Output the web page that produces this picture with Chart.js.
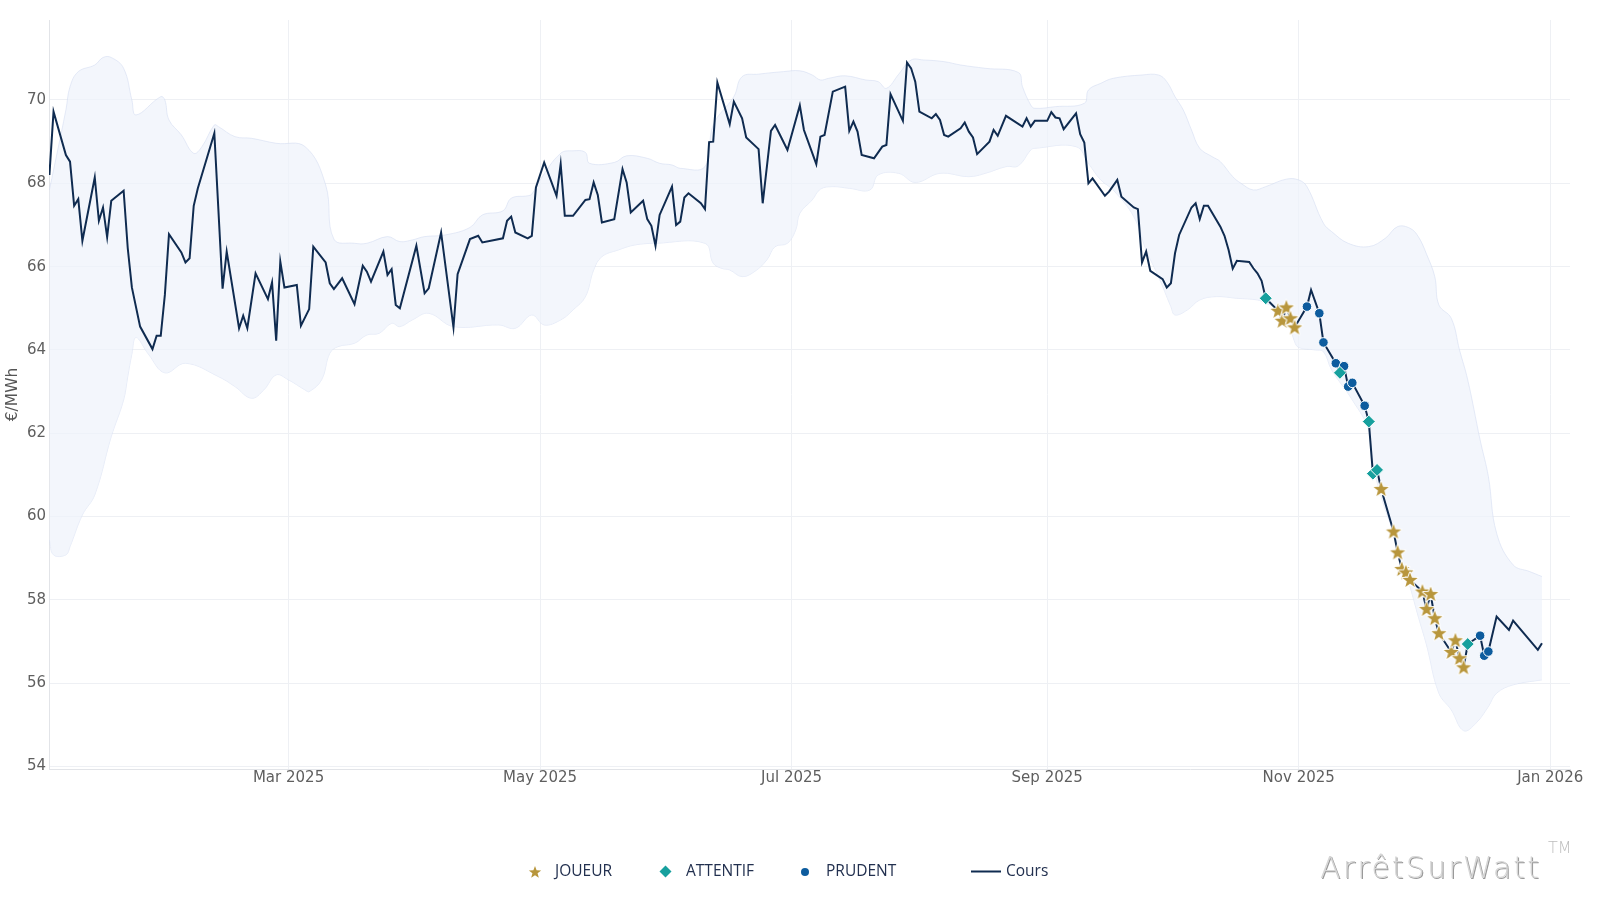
<!DOCTYPE html>
<html>
<head>
<meta charset="utf-8">
<script src="https://cdn.jsdelivr.net/npm/chart.js@4.4.1/dist/chart.umd.min.js"></script>
<style>
  html, body { margin: 0; padding: 0; background: #fff; }
  #wrap { position: relative; width: 1600px; height: 900px; overflow: hidden; }
  #chart { position: absolute; left: 0; top: 0; }
  .leg { position: absolute; top: 863px; font-family: 'Open Sans', sans-serif; font-size: 15.5px; line-height: 1; color: #22304f; white-space: nowrap; }
  .icon { position: absolute; }
  #mark { position: absolute; left: 1320px; top: 853px; font-family: 'DejaVu Sans', sans-serif; font-weight: 200; font-size: 30px; line-height: 1; color: #d6d6d6; text-shadow: 1px 1px 0 #9a9a9a; letter-spacing: 2.2px; white-space: nowrap; }
  #tm { position: absolute; left: 1548px; top: 840px; font-family: 'DejaVu Sans', sans-serif; font-weight: 200; font-size: 16px; line-height: 1; color: #bdbdbd; }
</style>
</head>
<body>
<div id="wrap">
  <canvas id="chart" width="1600" height="900"></canvas>

  <svg class="icon" style="left:528px;top:865px" width="14" height="14" viewBox="-7 -7 14 14">
    <polygon id="legStar" fill="#b8963c"></polygon>
  </svg>
  <div class="leg" style="left:555px">JOUEUR</div>
  <svg class="icon" style="left:659px;top:865px" width="13" height="13" viewBox="-6.5 -6.5 13 13">
    <polygon points="0,-6 6,0 0,6 -6,0" fill="#17a09e"></polygon>
  </svg>
  <div class="leg" style="left:686px">ATTENTIF</div>
  <svg class="icon" style="left:800px;top:867px" width="10" height="10" viewBox="-5 -5 10 10">
    <circle r="4" fill="#0d5c9e"></circle>
  </svg>
  <div class="leg" style="left:826px">PRUDENT</div>
  <svg class="icon" style="left:971px;top:870px" width="30" height="3">
    <line x1="0" y1="1.5" x2="30" y2="1.5" stroke="#0f2b50" stroke-width="2"></line>
  </svg>
  <div class="leg" style="left:1006px">Cours</div>

  <div id="mark">ArrêtSurWatt</div>
  <div id="tm">TM</div>
</div>

<script>
// day offsets from 2025-01-01
const coursDays = [
  1, 2, 5, 6, 7, 8, 9, 12, 13, 14, 15, 16, 19, 20, 21, 23, 26, 27, 28, 29, 30,
  33, 34, 35, 36, 37, 41, 43, 44, 47, 48, 49, 51, 54, 55, 56, 57, 58, 61, 62, 64, 65,
  68, 69, 70, 72, 75, 77, 78, 79, 82, 83, 84, 85, 86, 90, 92, 93, 96, 99, 100,
  103, 105, 106, 111, 112, 113, 114, 117, 118, 119, 121, 124, 125, 126, 128,
  131, 132, 133, 134, 135, 138, 140, 141, 142, 145, 146, 147, 148, 149, 152, 153,
  154, 155, 156, 159, 160, 161, 162, 163, 166, 167, 169, 170, 173, 174, 176, 177,
  180, 183, 184, 187, 188, 189, 191, 194, 195, 196, 197, 198, 201, 203, 204, 205,
  208, 209, 210, 211, 212, 215, 216, 217, 218, 219, 222, 223, 224, 225, 226, 229,
  230, 231, 233, 237, 238, 239, 240, 243, 244, 245, 246, 247, 250, 251, 252, 253,
  254, 257, 258, 260, 261, 264, 265, 266, 267, 268, 271, 272, 273, 274, 275, 278,
  279, 280, 281, 282, 285, 286, 287, 288, 289, 292, 293, 294, 295, 296, 299, 300,
  301, 302, 303, 306, 307, 309, 310, 313, 314, 315, 316, 317, 320, 321, 322, 323,
  324, 327, 328, 329, 330, 331, 334, 335, 336, 337, 338, 341, 342, 343, 344, 345,
  348, 349, 350, 352, 355, 356, 362, 363
];
const coursValues = [
  68.20, 69.72, 68.68, 68.52, 67.46, 67.62, 66.62, 68.14, 67.10, 67.42, 66.71, 67.58, 67.82, 66.44, 65.50, 64.56, 64.02, 64.34, 64.34, 65.32, 66.78,
  66.34, 66.10, 66.20, 67.46, 67.88, 69.20, 65.47, 66.36, 64.52, 64.82, 64.52, 65.84, 65.22, 65.62, 64.22, 66.12, 65.50, 65.56, 64.58, 64.98, 66.48,
  66.10, 65.60, 65.46, 65.72, 65.10, 66.02, 65.88, 65.64, 66.36, 65.80, 65.94, 65.08, 65.00, 66.50, 65.36, 65.48, 66.82, 64.54, 65.82,
  66.66, 66.74, 66.58, 66.68, 67.10, 67.20, 66.82, 66.68, 66.74, 67.90, 68.50, 67.70, 68.46, 67.22, 67.22,
  67.60, 67.62, 68.02, 67.72, 67.06, 67.14, 68.34, 68.02, 67.30, 67.58, 67.14, 66.98, 66.50, 67.24, 67.92, 67.00,
  67.08, 67.66, 67.76, 67.52, 67.38, 68.99, 69.00, 70.42, 69.42, 69.96, 69.56, 69.10, 68.82, 67.52, 69.26, 69.40,
  68.80, 69.87, 69.28, 68.46, 69.12, 69.16, 70.20, 70.32, 69.26, 69.48, 69.24, 68.68, 68.60, 68.88, 68.92, 70.14,
  69.50, 70.90, 70.76, 70.44, 69.72, 69.56, 69.66, 69.52, 69.16, 69.12, 69.32, 69.46, 69.24, 69.10, 68.70, 69.00,
  69.28, 69.14, 69.62, 69.36, 69.56, 69.36, 69.50, 69.50, 69.71, 69.58, 69.56, 69.30, 69.68, 69.18, 68.98, 68.00,
  68.12, 67.70, 67.80, 68.08, 67.68, 67.42, 67.38, 66.10, 66.36, 65.90, 65.70, 65.50, 65.60, 66.32, 66.76, 67.42,
  67.52, 67.14, 67.46, 67.46, 66.96, 66.74, 66.40, 65.95, 66.14, 66.11, 65.96, 65.84, 65.66, 65.24, 64.94, 64.70,
  65.02, 64.76, 64.54, 65.04, 65.44, 64.88, 64.18, 63.68, 63.45, 63.61, 63.12, 63.21, 62.66, 62.28, 61.03, 61.12,
  60.66, 59.64, 59.14, 58.74, 58.66, 58.48, 58.20, 57.78, 58.14, 57.56, 57.20, 56.75, 57.03, 56.60, 56.38, 56.94,
  57.14, 56.66, 56.76, 57.60, 57.28, 57.50, 56.80, 56.96
];

// envelope (upper / lower)
const upperDays = [
  1, 5, 6, 8, 12, 14, 16, 19, 21, 22, 28, 29, 30, 33, 36, 38, 41, 42, 46, 50, 56, 63, 68, 70,
  75, 78, 83, 86, 89, 92, 97, 103, 106, 111, 113, 117, 118, 120, 125, 128, 131, 132, 138, 141,
  146, 149, 152, 154, 160, 162, 167, 169, 173, 179, 183, 186, 188, 190, 194, 199, 202, 204, 207,
  210, 213, 218, 222, 228, 236, 237, 239, 240, 245, 252, 253, 256, 259, 266, 270, 272, 274, 276,
  278, 280, 283, 285, 288, 290, 293, 296, 301, 304, 306, 310, 312, 316, 321, 325, 328, 331, 333,
  335, 337, 338, 341, 343, 345, 348, 350, 352, 356, 360, 363
];
const upperValues = [
  67.84, 69.76, 70.32, 70.68, 70.84, 71.02, 71.02, 70.76, 70.00, 69.64, 70.08, 70.00, 69.52, 69.16, 68.72, 68.88, 69.40, 69.36, 69.12, 69.08, 68.96, 68.88, 67.96, 66.66,
  66.56, 66.56, 66.72, 66.60, 66.64, 66.72, 66.76, 66.94, 67.24, 67.34, 67.64, 67.70, 67.74, 68.08, 68.72, 68.78, 68.74, 68.48, 68.50, 68.66,
  68.60, 68.48, 68.44, 68.36, 68.40, 69.40, 70.08, 70.56, 70.62, 70.68, 70.70, 70.60, 70.48, 70.52, 70.58, 70.48, 70.44, 70.28, 70.62,
  70.96, 70.96, 70.92, 70.84, 70.76, 70.66, 70.32, 69.88, 69.80, 69.84, 69.92, 70.24, 70.40, 70.52, 70.60, 70.60, 70.44, 70.08, 69.76,
  69.28, 68.84, 68.64, 68.52, 68.16, 68.00, 67.84, 67.92, 68.10, 68.08, 67.92, 67.04, 66.84, 66.56, 66.48, 66.68, 66.96, 66.92, 66.72,
  66.30, 65.76, 65.08, 64.76, 64.00, 63.28, 61.84, 60.96, 59.60, 58.84, 58.68, 58.56
];
const lowerDays = [
  1, 2, 5, 6, 9, 12, 16, 19, 20, 21, 22, 25, 29, 34, 42, 46, 50, 53, 56, 59, 63, 64, 67, 69, 71,
  75, 78, 81, 84, 86, 89, 93, 99, 110, 114, 118, 121, 125, 128, 131, 133, 135, 139, 143, 148, 160,
  162, 164, 166, 169, 172, 175, 177, 180, 182, 183, 186, 188, 191, 195, 200, 202, 207, 211, 217,
  224, 228, 233, 236, 239, 240, 250, 253, 256, 259, 264, 267, 270, 273, 274, 277, 280, 284, 289,
  294, 296, 299, 301, 303, 304, 308, 310, 312, 317, 321, 322, 324, 327, 329, 331, 333, 335, 338,
  341, 344, 347, 350, 352, 356, 363
];
const lowerValues = [
  59.44, 59.08, 59.08, 59.28, 60.04, 60.52, 61.92, 62.80, 63.36, 63.90, 64.30, 63.90, 63.45, 63.68, 63.36, 63.12, 62.84, 63.04, 63.40, 63.28, 63.04, 63.00, 63.28, 63.92, 64.08,
  64.16, 64.36, 64.40, 64.64, 64.56, 64.72, 64.88, 64.56, 64.60, 64.52, 64.84, 64.60, 64.72, 64.96, 65.28, 65.92, 66.24, 66.40, 66.52, 66.56, 66.56,
  66.08, 65.96, 65.92, 65.76, 65.88, 66.16, 66.48, 66.56, 66.88, 67.28, 67.60, 67.86, 67.92, 67.88, 67.84, 68.20, 68.24, 68.02, 68.24,
  68.16, 68.24, 68.40, 68.42, 68.80, 68.84, 68.88, 68.48, 68.08, 67.84, 67.20, 66.40, 65.76, 65.04, 64.84, 64.96, 65.20, 65.28, 65.24,
  65.20, 65.12, 65.00, 64.80, 64.20, 64.06, 64.00, 63.96, 63.52, 62.80, 62.08, 61.28, 60.48, 59.60, 58.96, 58.32, 57.60, 56.92, 55.76,
  55.36, 54.86, 55.04, 55.44, 55.76, 55.96, 56.08
];

// signal days (values come from the Cours series)
const joueurDays = [299, 300, 301, 302, 303, 324, 327, 328, 329, 330, 331, 334, 335, 336, 337, 338, 341, 342, 343, 344];
const attentifDays = [296, 314, 321, 322, 323, 345];
const prudentDays = [306, 309, 310, 313, 315, 316, 317, 320, 348, 349, 350];

const tickDays = [59, 120, 181, 243, 304, 365];
const tickLabels = ['Mar 2025', 'May 2025', 'Jul 2025', 'Sep 2025', 'Nov 2025', 'Jan 2026'];
const yTicks = [54, 56, 58, 60, 62, 64, 66, 68, 70];

const GOLD = '#b8963c';
const TEAL = '#17a09e';
const BLUE = '#0d5c9e';
const NAVY = '#0f2b50';

function starPath(ctx, cx, cy, outer, inner) {
    ctx.beginPath();
    for (let i = 0; i < 10; i++) {
        const r = i % 2 === 0 ? outer : inner;
        const a = -Math.PI / 2 + i * Math.PI / 5;
        const px = cx + r * Math.cos(a);
        const py = cy + r * Math.sin(a);
        if (i === 0) ctx.moveTo(px, py); else ctx.lineTo(px, py);
    }
    ctx.closePath();
}

// star marker as an image, chart.js only has a stroked star
const starImg = document.createElement('canvas');
starImg.width = 20;
starImg.height = 20;
(function () {
    const c = starImg.getContext('2d');
    starPath(c, 10, 10.5, 8, 3.3);
    c.lineWidth = 2;
    c.strokeStyle = '#ffffff';
    c.lineJoin = 'round';
    c.stroke();
    c.fillStyle = GOLD;
    c.fill();
})();

// legend star
(function () {
    const pts = [];
    for (let i = 0; i < 10; i++) {
        const r = i % 2 === 0 ? 6.5 : 2.7;
        const a = -Math.PI / 2 + i * Math.PI / 5;
        pts.push((r * Math.cos(a)).toFixed(2) + ',' + (r * Math.sin(a) + 0.5).toFixed(2));
    }
    document.getElementById('legStar').setAttribute('points', pts.join(' '));
})();

const toPoints = (days, vals) => days.map((d, i) => ({ x: d, y: vals[i] }));
const onCours = days => days.map(d => ({ x: d, y: coursValues[coursDays.indexOf(d)] }));

Chart.defaults.font.family = "'DejaVu Sans', sans-serif";

new Chart(document.getElementById('chart'), {
    type: 'line',
    data: {
        datasets: [
            {
                label: 'JOUEUR',
                data: onCours(joueurDays),
                showLine: false,
                pointStyle: starImg,
                pointRadius: 8
            },
            {
                label: 'ATTENTIF',
                data: onCours(attentifDays),
                showLine: false,
                pointStyle: 'rectRot',
                pointRadius: 6.5,
                pointBackgroundColor: TEAL,
                pointBorderColor: '#ffffff',
                pointBorderWidth: 1
            },
            {
                label: 'PRUDENT',
                data: onCours(prudentDays),
                showLine: false,
                pointStyle: 'circle',
                pointRadius: 4.8,
                pointBackgroundColor: BLUE,
                pointBorderColor: '#ffffff',
                pointBorderWidth: 1
            },
            {
                label: 'Cours',
                data: toPoints(coursDays, coursValues),
                borderColor: NAVY,
                borderWidth: 2,
                pointRadius: 0,
                tension: 0,
                fill: false
            },
            {
                label: 'haut',
                data: toPoints(upperDays, upperValues),
                borderColor: 'rgba(210,219,240,0.55)',
                borderWidth: 1,
                pointRadius: 0,
                tension: 0.4,
                fill: '+1',
                backgroundColor: 'rgba(238,242,251,0.7)'
            },
            {
                label: 'bas',
                data: toPoints(lowerDays, lowerValues),
                borderColor: 'rgba(210,219,240,0.55)',
                borderWidth: 1,
                pointRadius: 0,
                tension: 0.4,
                fill: false
            }
        ]
    },
    options: {
        responsive: false,
        devicePixelRatio: 1,
        animation: false,
        layout: { padding: { top: 20, right: 30, left: 0, bottom: 0 } },
        plugins: {
            legend: { display: false },
            tooltip: { enabled: false }
        },
        scales: {
            x: {
                type: 'linear',
                min: 0.9,
                max: 369.8,
                afterBuildTicks: scale => { scale.ticks = tickDays.map(v => ({ value: v })); },
                afterFit: scale => { scale.height = 131; },
                ticks: {
                    padding: 0,
                    color: '#5f5f5f',
                    font: { size: 15 },
                    maxRotation: 0,
                    callback: v => tickLabels[tickDays.indexOf(v)]
                },
                grid: { color: '#eef0f4', drawTicks: false },
                border: { color: '#e2e4e8' }
            },
            y: {
                min: 53.94,
                max: 71.92,
                afterBuildTicks: scale => { scale.ticks = yTicks.map(v => ({ value: v })); },
                afterFit: scale => { scale.width = 49; },
                ticks: {
                    padding: 3,
                    color: '#5f5f5f',
                    font: { size: 15 }
                },
                grid: { color: '#eef0f4', drawTicks: false },
                border: { color: '#e2e4e8' },
                title: {
                    display: true,
                    text: '€/MWh',
                    color: '#555555',
                    font: { size: 15.5 },
                    padding: { top: 4, bottom: 0 }
                }
            }
        }
    }
});
</script>
</body>
</html>
